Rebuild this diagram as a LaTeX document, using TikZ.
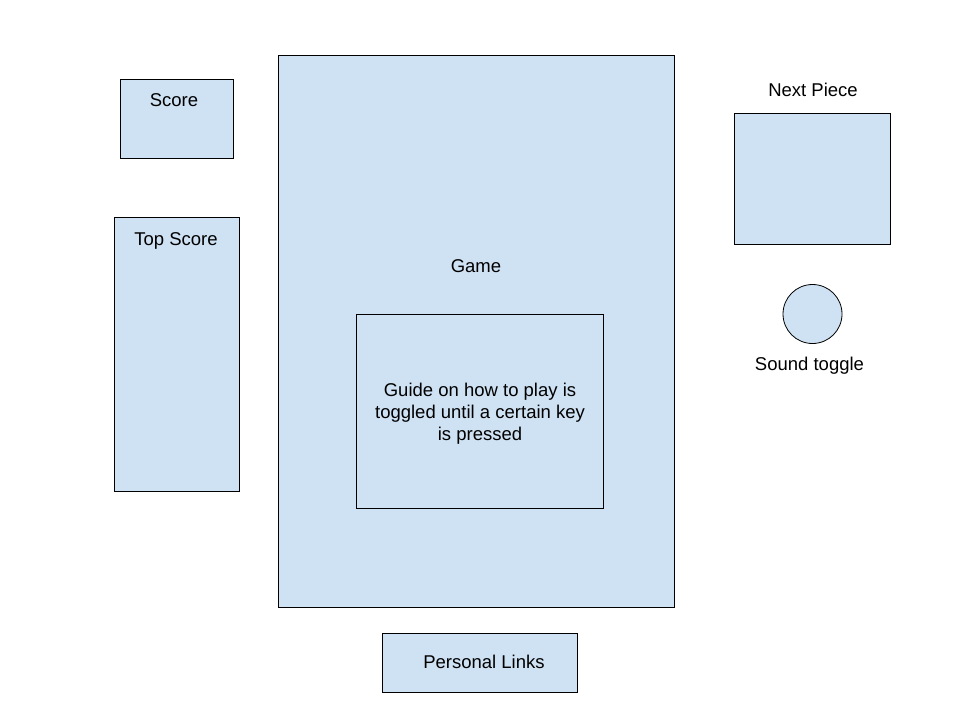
\documentclass[tikz,border=0pt]{standalone}
\usepackage{fontspec}
\setmainfont{Liberation Sans}
\definecolor{boxfill}{HTML}{CFE2F3}
\begin{document}
\begin{tikzpicture}[x=1pt,y=-1pt,
  box/.style={draw=black,fill=boxfill,line width=0.8pt,inner sep=0pt,rectangle},
  lbl/.style={font=\fontsize{18.5}{22}\selectfont,inner sep=0pt,align=center}]
\useasboundingbox (0,0) rectangle (960,720);
% boxes: center, width, height
\node[box,minimum width=113pt,minimum height=79pt] (score) at (176.5,118.5) {};
\node[box,minimum width=125pt,minimum height=274pt] (top) at (176.5,354) {};
\node[box,minimum width=396pt,minimum height=552pt] (game) at (476,331) {};
\node[box,minimum width=247pt,minimum height=194pt] (guide) at (479.5,411) {};
\node[box,minimum width=156pt,minimum height=131pt] (next) at (812,178.5) {};
\node[box,circle,minimum size=59pt] (sound) at (812.5,314) {};
\node[box,minimum width=195pt,minimum height=59pt] (links) at (479.5,662.5) {};
% texts
\node[lbl] (tscore) at (174,100) {Score};
\node[lbl] (ttop) at (176,241) {Top Score};
\node[lbl] (tgame) at (476,266) {Game};
\node[lbl] (tguide) at (480,414) {Guide on how to play is\\toggled until a certain key\\is pressed};
\node[lbl] (tnext) at (813,90) {Next Piece};
\node[lbl] (tsound) at (809.5,366) {Sound toggle};
\node[lbl] (tlinks) at (484,662) {Personal Links};
\end{tikzpicture}
\end{document}
